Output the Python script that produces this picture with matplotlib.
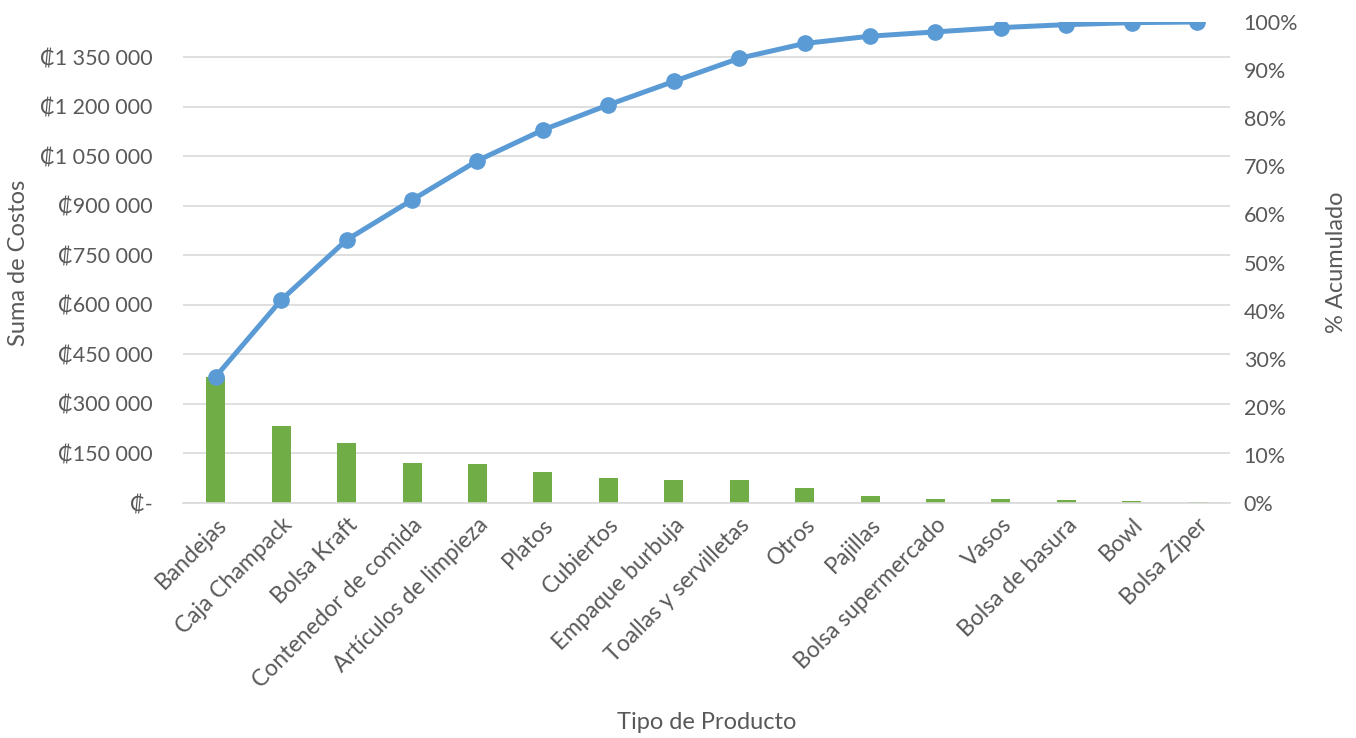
import numpy as np
import matplotlib
matplotlib.use("Agg")
import matplotlib.pyplot as plt
from matplotlib.ticker import FuncFormatter, MultipleLocator

plt.rcParams['font.family'] = ['Lato', 'DejaVu Sans']

# datos
productos = ["Bandejas", "Caja Champack", "Bolsa Kraft", "Contenedor de comida",
             "Artículos de limpieza", "Platos", "Cubiertos", "Empaque burbuja",
             "Toallas y servilletas", "Otros", "Pajillas", "Bolsa supermercado",
             "Vasos", "Bolsa de basura", "Bowl", "Bolsa Ziper"]
costos = [383000, 232000, 182000, 121000, 119000, 93000, 76000, 71000,
          70000, 45000, 22000, 13000, 13000, 9000, 6000, 2000]

total = sum(costos)
acumulado = np.cumsum(costos) / total

gris = "#595959"
x = np.arange(len(productos))

fig = plt.figure(figsize=(13.56, 7.38), dpi=100)
ax = fig.add_axes([0.135, 0.3184, 0.772, 0.6518])
ax2 = ax.twinx()

ax.bar(x, costos, width=0.29, color="#70AD47", zorder=2)
ax.set_ylim(0, total)
ax.set_xlim(-0.5, len(productos) - 0.5)
ax.yaxis.set_major_locator(MultipleLocator(150000))


def colones(v, pos):
    if v == 0:
        return "₡-"
    return "₡" + f"{int(round(v)):,}".replace(",", " ")


ax.yaxis.set_major_formatter(FuncFormatter(colones))
ax.grid(axis="y", color="#D9D9D9", linewidth=1.2, zorder=0)
ax.set_axisbelow(True)

ax2.plot(x, acumulado, color="#5B9BD5", linewidth=3.6, marker="o",
         markersize=11, solid_joinstyle="round", solid_capstyle="round", zorder=3)
ax2.set_ylim(0, 1)
ax2.yaxis.set_major_locator(MultipleLocator(0.1))
ax2.yaxis.set_major_formatter(FuncFormatter(lambda v, p: f"{v * 100:.0f}%"))

for a in (ax, ax2):
    for s in a.spines.values():
        s.set_visible(False)
    a.tick_params(length=0, labelsize=15.5, colors=gris)
ax.spines["bottom"].set_visible(True)
ax.spines["bottom"].set_color("#D9D9D9")
ax.spines["bottom"].set_linewidth(1.2)

ax.set_xticks(x)
ax.set_xticklabels(productos, rotation=45, ha="right", rotation_mode="anchor",
                   fontsize=16.5)
ax.tick_params(axis="x", pad=8)
ax.tick_params(axis="y", pad=22)
ax2.tick_params(axis="y", pad=10)

ax.set_xlabel("Tipo de Producto", fontsize=17, color=gris)
ax.set_ylabel("Suma de Costos", fontsize=17, color=gris, labelpad=8)
ax2.set_ylabel("% Acumulado", fontsize=17, color=gris, labelpad=20)
ax.xaxis.set_label_coords(0.5, -0.435)

fig.savefig("out.png", dpi=100)
